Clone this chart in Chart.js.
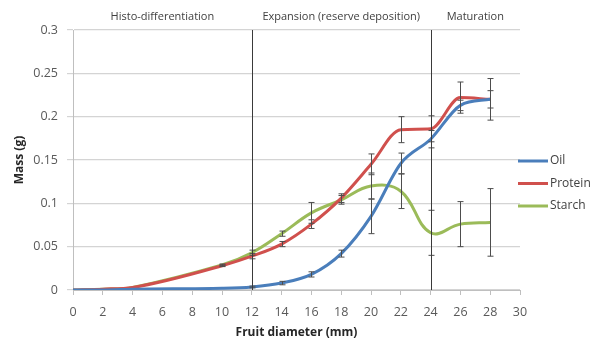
<!DOCTYPE html>
<html lang="en">
<head>
    <meta charset="UTF-8">
    <title>Seed reserve deposition</title>
    <script src="https://cdn.jsdelivr.net/npm/chart.js"></script>
    <style>
        html, body { margin: 0; padding: 0; background: #fff; }
        #wrap { width: 605px; height: 341px; }
    </style>
</head>
<body>
    <div id="wrap"><canvas id="massChart" width="605" height="341"></canvas></div>

    <script>
        // fruit diameter (mm) and mass (g)
        const diameters = [0, 2, 4, 10, 12, 14, 16, 18, 20, 22, 24, 26, 28];
        const oil      = [0, 0, 0.001, 0.002, 0.0035, 0.008, 0.018, 0.042, 0.085, 0.146, 0.174, 0.213, 0.22];
        const protein  = [0, 0.001, 0.003, 0.028, 0.039, 0.053, 0.076, 0.106, 0.145, 0.185, 0.186, 0.222, 0.22];
        const starch   = [0, 0.001, 0.003, 0.029, 0.043, 0.065, 0.089, 0.104, 0.12, 0.114, 0.066, 0.076, 0.078];
        const oilErr     = [0, 0, 0, 0, 0.001, 0.002, 0.003, 0.004, 0.02, 0.012, 0.01, 0.006, 0.01];
        const proteinErr = [0, 0, 0, 0.001, 0.003, 0.003, 0.005, 0.005, 0.012, 0.015, 0.015, 0.018, 0.024];
        const starchErr  = [0, 0, 0, 0.001, 0.003, 0.003, 0.012, 0.005, 0.015, 0.02, 0.026, 0.026, 0.039];

        const seriesNames = ["Oil", "Protein", "Starch"];
        const phaseBounds = [12, 24];
        const phaseNames = ["Histo-differentiation", "Expansion (reserve deposition)", "Maturation"];
        const xTicks = [0, 2, 4, 6, 8, 10, 12, 14, 16, 18, 20, 22, 24, 26, 28, 30];
        const yTicks = [0, 0.05, 0.1, 0.15, 0.2, 0.25, 0.3];

        const colors = ["#4a7ebb", "#d0504d", "#9bbb59"];
        const FONT = "'Open Sans', 'DejaVu Sans', sans-serif";

        function pairs(ys) {
            return diameters.map((d, i) => ({ x: d, y: ys[i] }));
        }

        // error bars, drawn through the scales
        const errorBars = {
            id: "errorBars",
            afterDatasetsDraw(chart) {
                const { ctx } = chart;
                const xs = chart.scales.x, ys = chart.scales.y;
                const errs = [oilErr, proteinErr, starchErr];
                ctx.save();
                ctx.strokeStyle = "#4d4d4d";
                ctx.lineWidth = 1;
                chart.data.datasets.forEach((ds, k) => {
                    ds.data.forEach((p, i) => {
                        const e = errs[k][i];
                        if (!e) return;
                        const px = Math.round(xs.getPixelForValue(p.x)) + 0.5;
                        const top = ys.getPixelForValue(p.y + e);
                        const bot = ys.getPixelForValue(p.y - e);
                        ctx.beginPath();
                        ctx.moveTo(px, top); ctx.lineTo(px, bot);
                        ctx.moveTo(px - 3, top); ctx.lineTo(px + 3, top);
                        ctx.moveTo(px - 3, bot); ctx.lineTo(px + 3, bot);
                        ctx.stroke();
                    });
                });
                ctx.restore();
            }
        };

        // phase separators and their labels
        const phases = {
            id: "phases",
            afterDatasetsDraw(chart) {
                const { ctx, chartArea } = chart;
                const xs = chart.scales.x;
                ctx.save();
                ctx.strokeStyle = "#3a3a3a";
                ctx.lineWidth = 1;
                phaseBounds.forEach(b => {
                    const px = Math.round(xs.getPixelForValue(b)) + 0.5;
                    ctx.beginPath();
                    ctx.moveTo(px, chartArea.top);
                    ctx.lineTo(px, chartArea.bottom);
                    ctx.stroke();
                });
                const edges = [xs.min, ...phaseBounds, xs.max];
                ctx.fillStyle = "#404040";
                ctx.font = "11px " + FONT;
                ctx.textAlign = "center";
                ctx.textBaseline = "middle";
                phaseNames.forEach((name, i) => {
                    const mid = (edges[i] + edges[i + 1]) / 2;
                    ctx.fillText(name, xs.getPixelForValue(mid), chartArea.top - 13);
                });
                ctx.restore();
            }
        };

        // legend on the right, Excel style
        const sideLegend = {
            id: "sideLegend",
            afterDraw(chart) {
                const { ctx, chartArea } = chart;
                ctx.save();
                ctx.font = "12px " + FONT;
                ctx.textAlign = "left";
                ctx.textBaseline = "middle";
                chart.data.datasets.forEach((ds, i) => {
                    const y = 161 + i * 22.5;
                    const x0 = chartArea.right - 2;
                    ctx.strokeStyle = ds.borderColor;
                    ctx.lineWidth = 3;
                    ctx.beginPath();
                    ctx.moveTo(x0, y);
                    ctx.lineTo(x0 + 30, y);
                    ctx.stroke();
                    ctx.fillStyle = "#404040";
                    ctx.fillText(ds.label, x0 + 32, y);
                });
                ctx.restore();
            }
        };

        function drawChart() {
            const ctx = document.getElementById("massChart").getContext("2d");
            const sets = [oil, protein, starch];
            new Chart(ctx, {
                type: "line",
                data: {
                    datasets: sets.map((s, i) => ({
                        label: seriesNames[i],
                        data: pairs(s),
                        borderColor: colors[i],
                        backgroundColor: colors[i],
                        borderWidth: 3,
                        pointRadius: 0,
                        // starch overshoots after 24 mm in the original, the others stay flat
                        cubicInterpolationMode: i === 2 ? "default" : "monotone",
                        tension: 0.4,
                        fill: false
                    }))
                },
                options: {
                    responsive: false,
                    animation: false,
                    layout: { padding: { top: 30, right: 85, left: 0, bottom: 0 } },
                    plugins: {
                        legend: { display: false },
                        tooltip: { enabled: false }
                    },
                    scales: {
                        x: {
                            type: "linear",
                            min: 0,
                            max: 30,
                            afterBuildTicks: axis => { axis.ticks = xTicks.map(v => ({ value: v })); },
                            afterFit: axis => { axis.height = 51; },
                            grid: {
                                drawOnChartArea: false,
                                drawTicks: true,
                                tickLength: 5,
                                color: "#bfbfbf"
                            },
                            border: { color: "#bfbfbf" },
                            ticks: {
                                padding: 10,
                                maxRotation: 0,
                                color: "#595959",
                                font: { family: FONT, size: 12.5 }
                            },
                            title: {
                                display: true,
                                text: "Fruit diameter (mm)",
                                color: "#262626",
                                font: { family: FONT, size: 12, weight: "bold" },
                                padding: { top: 0, bottom: 1 }
                            }
                        },
                        y: {
                            min: 0,
                            max: 0.3,
                            afterBuildTicks: axis => { axis.ticks = yTicks.map(v => ({ value: v })); },
                            afterFit: axis => { axis.width = 73; },
                            grid: {
                                color: "#d4d4d4",
                                lineWidth: 1.2,
                                tickLength: 6
                            },
                            border: { color: "#bfbfbf" },
                            ticks: {
                                padding: 9,
                                color: "#595959",
                                font: { family: FONT, size: 12.5 },
                                callback: v => String(+v.toFixed(2))
                            },
                            title: {
                                display: true,
                                text: "Mass (g)",
                                color: "#262626",
                                font: { family: FONT, size: 12, weight: "bold" },
                                padding: { top: 12, bottom: 0 }
                            }
                        }
                    }
                },
                plugins: [errorBars, phases, sideLegend]
            });
        }
        window.onload = drawChart;
    </script>
</body>
</html>
